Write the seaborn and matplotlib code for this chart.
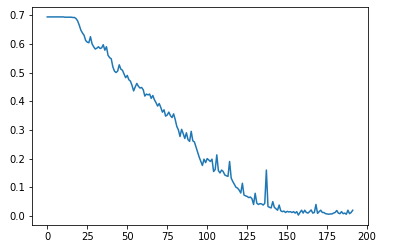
import numpy as np
import pandas as pd
import matplotlib
matplotlib.use("Agg")
import matplotlib.pyplot as plt
import seaborn as sns

loss = [
    0.694, 0.694, 0.694, 0.694, 0.694, 0.694, 0.694, 0.694, 0.694, 0.694,
    0.694, 0.693, 0.693, 0.693, 0.693, 0.693, 0.692, 0.692, 0.688, 0.680,
    0.665, 0.648, 0.638, 0.630, 0.612, 0.606, 0.604, 0.625, 0.600, 0.590,
    0.582, 0.585, 0.590, 0.584, 0.586, 0.597, 0.578, 0.590, 0.560, 0.552,
    0.548, 0.520, 0.505, 0.500, 0.505, 0.527, 0.512, 0.508, 0.495, 0.482,
    0.490, 0.475, 0.470, 0.455, 0.436, 0.450, 0.462, 0.452, 0.446, 0.448,
    0.440, 0.418, 0.425, 0.422, 0.425, 0.410, 0.420, 0.405, 0.395, 0.383,
    0.392, 0.378, 0.362, 0.370, 0.348, 0.352, 0.362, 0.350, 0.343, 0.356,
    0.336, 0.312, 0.300, 0.277, 0.302, 0.287, 0.270, 0.290, 0.266, 0.260,
    0.295, 0.262, 0.258, 0.240, 0.222, 0.205, 0.190, 0.176, 0.198, 0.186,
    0.200, 0.195, 0.190, 0.198, 0.155, 0.162, 0.213, 0.158, 0.150, 0.160,
    0.155, 0.143, 0.140, 0.138, 0.190, 0.132, 0.120, 0.110, 0.100, 0.097,
    0.090, 0.080, 0.114, 0.073, 0.070, 0.068, 0.064, 0.066, 0.060, 0.040,
    0.079, 0.045, 0.040, 0.043, 0.042, 0.038, 0.044, 0.160, 0.033, 0.030,
    0.028, 0.050, 0.030, 0.025, 0.020, 0.038, 0.018, 0.015, 0.017, 0.012,
    0.016, 0.014, 0.015, 0.012, 0.015, 0.010, 0.015, 0.003, 0.012, 0.020,
    0.010, 0.020, 0.012, 0.010, 0.015, 0.021, 0.010, 0.012, 0.040, 0.009,
    0.015, 0.020, 0.012, 0.012, 0.008, 0.007, 0.006, 0.007, 0.007, 0.010,
    0.012, 0.019, 0.010, 0.008, 0.015, 0.008, 0.010, 0.006, 0.020, 0.008,
    0.012, 0.020,
]
steps = list(range(len(loss)))

df = pd.DataFrame({"step": steps, "loss": loss})

fig = plt.figure(figsize=(393 / 72, 249 / 72), dpi=72)
ax = fig.add_axes([32 / 393, 24 / 249, 336 / 393, 218 / 249])
sns.lineplot(data=df, x="step", y="loss", ax=ax, color="#1f77b4", linewidth=1.5)
ax.set_xlabel("")
ax.set_ylabel("")
ax.set_xticks([0, 25, 50, 75, 100, 125, 150, 175, 200])
ax.set_yticks([0.0, 0.1, 0.2, 0.3, 0.4, 0.5, 0.6, 0.7])
ax.tick_params(labelsize=10)
fig.savefig("out.png", dpi=72)
